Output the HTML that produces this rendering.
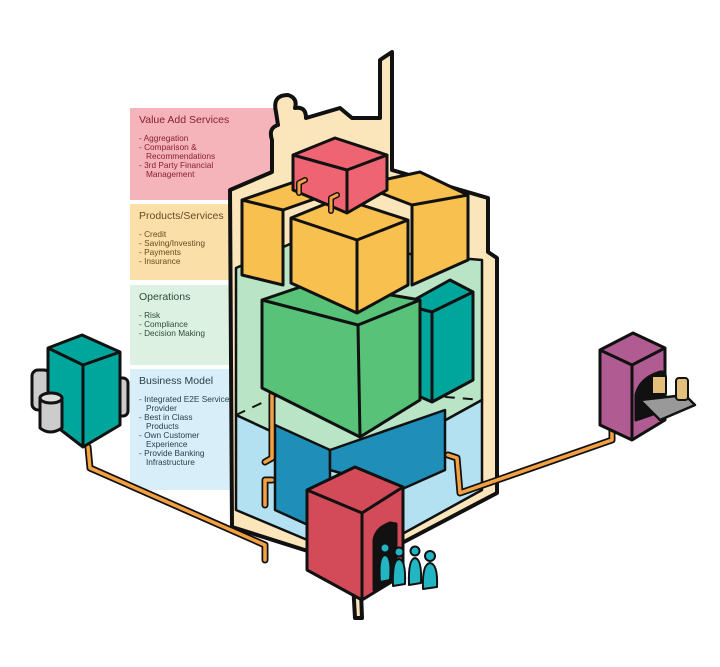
<!DOCTYPE html>
<html><head><meta charset="utf-8"><style>
body{margin:0;background:#fff;width:720px;height:667px;overflow:hidden;font-family:"Liberation Sans",sans-serif}
svg{position:absolute;left:0;top:0}
.p{position:absolute;left:130px;width:150px;padding:8px 0 0 9px;box-sizing:border-box;font-size:8.3px;line-height:9px}
.p b{display:block;font-weight:normal;font-size:10.5px;margin-bottom:9px;white-space:nowrap}
.p div{padding-left:7px;text-indent:-7px;width:92px}
</style></head><body>
<div class="p" style="top:108px;height:92px;background:#f5b3ba;color:#8a2030;width:150px"><b>Value Add Services</b><div>- Aggregation</div><div>- Comparison &amp; Recommendations</div><div>- 3rd Party Financial Management</div></div>
<div class="p" style="top:204px;height:76px;background:#fbdfa8;color:#6b4a20;width:110px"><b>Products/Services</b><div>- Credit</div><div>- Saving/Investing</div><div>- Payments</div><div>- Insurance</div></div>
<div class="p" style="top:285px;height:80px;background:#dcf1e2;color:#2f4a3a;width:110px"><b>Operations</b><div>- Risk</div><div>- Compliance</div><div style="width:60px">- Decision Making</div></div>
<div class="p" style="top:369px;height:121px;background:#d8eef8;color:#2a4050;width:110px"><b>Business Model</b><div>- Integrated E2E Service Provider</div><div style="width:72px">- Best in Class Products</div><div style="width:80px">- Own Customer Experience</div><div style="width:60px">- Provide Banking Infrastructure</div></div>
<svg width="720" height="667" viewBox="0 0 720 667" stroke="#111" stroke-width="3" stroke-linejoin="round">
<path d="M230 190 L272 172 L272 140 Q268 128 278 125 L276 112 Q272 95 288 95 Q298 98 295 108 Q306 106 306 118 L340 108 L352 118 L380 118 L380 60 L392 52 L392 170 L488 198 L488 252 L497 258 L497 493 L360 565 L362 618 L355 618 L352 565 L232 527 Z" fill="#fbe5bb" stroke-width="4"/>
<path d="M236 268 L290 244 L482 260 L482 400 L355 470 L236 415 Z" fill="#b9e4c6" stroke-width="2.5"/>
<path d="M236 415 L355 470 L482 400 L482 490 L355 560 L236 510 Z" fill="#b3e1f2" stroke-width="2.5"/>
<path d="M236 415 L300 385 L482 400" fill="none" stroke-width="2" stroke-dasharray="10 8"/>
<path d="M275 425 L330 450 L330 535 L275 510 Z" fill="#1f8eb8" stroke-width="2.5"/>
<path d="M330 450 L445 410 L445 470 L400 490 L330 470 Z" fill="#1f8eb8" stroke-width="2.5"/>
<g fill="none" stroke-linecap="round">
<path d="M88 447 L90 468 L265 545 L265 560" stroke="#111" stroke-width="7"/>
<path d="M88 447 L90 468 L265 545 L265 560" stroke="#f5a142" stroke-width="3.5"/>
<path d="M612 430 L612 440 L460 493 L457 458 L448 455" stroke="#111" stroke-width="7"/>
<path d="M612 430 L612 440 L460 493 L457 458 L448 455" stroke="#f5a142" stroke-width="3.5"/>
<path d="M272 395 L272 458 L265 462 M272 480 L265 480 L265 505" stroke="#111" stroke-width="7"/>
<path d="M272 395 L272 458 L265 462 M272 480 L265 480 L265 505" stroke="#f5a142" stroke-width="3.5"/>
</g>
<path d="M405 305 L450 280 L473 292 L473 380 L432 402 L405 390 Z" fill="#00a59c"/>
<path d="M405 305 L432 312 L473 292 M432 312 L432 402" fill="none"/>
<path d="M262 300 L315 282 L420 300 L420 400 L360 437 L262 388 Z" fill="#58c278"/>
<path d="M262 300 L358 325 L420 300 M358 325 L360 437" fill="none"/>
<path d="M242 200 L300 180 L340 190 L283 210 L283 285 L242 275 Z" fill="#f8c04e"/>
<path d="M242 200 L283 210" fill="none"/>
<path d="M360 185 L420 172 L468 195 L468 260 L412 285 L412 205 Z" fill="#f8c04e"/>
<path d="M412 205 L468 195" fill="none"/>
<path d="M291 218 L340 198 L408 220 L408 285 L357 313 L291 283 Z" fill="#f8c04e"/>
<path d="M291 218 L357 240 L408 220 M357 240 L357 313" fill="none"/>
<path d="M293 155 L335 138 L387 155 L387 190 L347 213 L293 190 Z" fill="#ef6472"/>
<path d="M293 155 L347 170 L387 155 M347 170 L347 213" fill="none"/>
<g fill="none" stroke-linecap="round"><path d="M299 193 L299 183 L305 180 M331 211 L331 198 L337 195" stroke="#111" stroke-width="6"/><path d="M299 193 L299 183 L305 180 M331 211 L331 198 L337 195" stroke="#f5a142" stroke-width="3"/></g>
<path d="M307 490 L355 467 L403 487 L403 575 L362 600 L307 570 Z" fill="#d34a58"/>
<path d="M307 490 L362 513 L403 487 M362 513 L362 600" fill="none"/>
<path d="M374 540 Q376 528 390 523 L396 524 L396 578 L374 590 Z" fill="#111"/>
<g fill="#22b5c2" stroke-width="2">
<circle cx="385" cy="548" r="4.5"/><path d="M380 582 Q378 556 385 555 Q392 556 390 580 Z"/>
<circle cx="399" cy="552" r="4.5"/><path d="M393 586 Q392 560 399 559 Q406 560 405 584 Z"/>
<circle cx="415" cy="551" r="4.5"/><path d="M409 585 Q408 559 415 558 Q422 559 421 583 Z"/>
<circle cx="430" cy="556" r="5"/><path d="M423 589 Q422 564 430 563 Q438 564 437 587 Z"/>
</g>
<rect x="32" y="370" width="18" height="40" rx="6" fill="#ccc"/>
<rect x="116" y="378" width="12" height="38" rx="5" fill="#ccc"/>
<path d="M48 348 L82 335 L120 352 L120 425 L83 447 L48 420 Z" fill="#00a59c"/>
<path d="M48 348 L83 365 L120 352 M83 365 L83 447" fill="none"/>
<path d="M40 398 L40 428 Q50 436 62 428 L62 398 Z" fill="#ccc"/><ellipse cx="51" cy="398" rx="11" ry="5" fill="#ddd"/>
<path d="M600 350 L633 333 L665 348 L665 420 L632 440 L600 425 Z" fill="#b05c93"/>
<path d="M600 350 L632 365 L665 348 M632 365 L632 440" fill="none"/>
<path d="M636 395 Q640 378 660 372 L665 372 L665 410 L636 420 Z" fill="#111"/>
<path d="M640 400 L685 395 L695 405 L660 420 Z" fill="#999" stroke-width="2.5"/>
<rect x="652" y="376" width="14" height="18" fill="#e2c07a" stroke-width="2"/>
<rect x="676" y="378" width="12" height="22" rx="3" fill="#e2c07a" stroke-width="2"/>
</svg>
</body></html>
